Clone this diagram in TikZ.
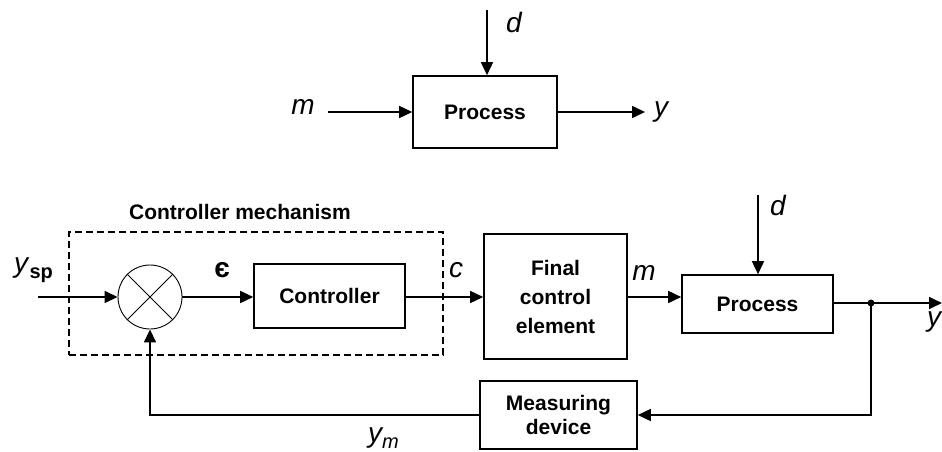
\documentclass[tikz,border=0pt]{standalone}
\usepackage{fontspec}
\setmainfont{Liberation Sans}
\usepackage{tikz}
\usetikzlibrary{arrows.meta,positioning}

\begin{document}
\begin{tikzpicture}[x=1pt, y=-1pt,
  block/.style={draw, line width=1.6pt, align=center, font=\fontsize{21}{29}\selectfont\bfseries, inner sep=0pt},
  sig/.style={font=\fontsize{28}{28}\selectfont\itshape, inner sep=0pt},
  edge/.style={-{Triangle[length=13pt, width=12pt]}, line width=1.6pt}
]
\useasboundingbox (0,0) rectangle (942,452);

% open-loop process
\node[block, minimum width=144pt, minimum height=72pt] (proc1) at (485,112) {Process};
\coordinate (d1) at (487,10);
\coordinate (m1) at (328,112);
\coordinate (y1) at (645,112);
\node[sig] (d1lab) at (514,22) {d};
\node[sig] (m1lab) at (303,107) {m};
\node[sig] (y1lab) at (661,112) {y};
\draw[edge] (d1) -- (d1 |- proc1.north);
\draw[edge] (m1) -- (proc1.west);
\draw[edge] (proc1.east) -- (y1);

% closed loop
\node[draw, dash pattern=on 7pt off 4pt, line width=1.4pt, minimum width=374pt, minimum height=123pt] (mech) at (256,293.5) {};
\node[font=\fontsize{21}{21}\selectfont\bfseries, inner sep=0pt] (mechlab) at (240,212) {Controller mechanism};
\node[draw, circle, line width=0.9pt, minimum size=64pt, inner sep=0pt] (sum) at (150,297) {};
\draw[line width=0.9pt] (sum.north east) -- (sum.south west) (sum.north west) -- (sum.south east);
\node[block, minimum width=151pt, minimum height=64pt] (ctrl) at (329.5,296) {Controller};
\node[block, minimum width=143pt, minimum height=125pt] (fce) at (555.5,296.5) {Final\\control\\element};
\node[block, minimum width=151pt, minimum height=58pt] (proc2) at (757.5,304) {Process};
\node[block, minimum width=157pt, minimum height=68pt, font=\fontsize{21}{24}\selectfont\bfseries] (meas) at (558.5,415) {Measuring\\device};

\coordinate (ysp) at (38,297);
\coordinate (d2) at (758,195);
\coordinate (yout) at (942,303);
\fill (871,303) circle (3.5pt) coordinate (split);

\node[sig, anchor=base west] (ysplab) at (14,272) {y\textup{\bfseries\fontsize{20}{20}\selectfont\raisebox{-6pt}{sp}}};
\node[font=\fontsize{28}{28}\selectfont\bfseries, inner sep=0pt] (eplab) at (222,270) {є};
\node[sig] (clab) at (456,270) {c};
\node[sig] (m2lab) at (644,273) {m};
\node[sig] (d2lab) at (778,205) {d};
\node[sig] (y2lab) at (934,322) {y};
\node[sig, anchor=base west] (ymlab) at (368,442) {y\fontsize{20}{20}\selectfont\raisebox{-6pt}{m}};

\draw[edge] (ysp) -- (sum.west);
\draw[edge] (sum.east) -- (sum.east -| ctrl.west);
\draw[edge] (ctrl.east |- sum.east) -- (sum.east -| fce.west);
\draw[edge] (fce.east |- sum.east) -- (sum.east -| proc2.west);
\draw[edge] (d2) -- (proc2.north -| d2);
\draw[edge] (proc2.east |- split) -- (yout);
\draw[edge] (split) |- (meas.east);
\draw[edge] (meas.west) -| (sum.south);
\end{tikzpicture}
\end{document}
